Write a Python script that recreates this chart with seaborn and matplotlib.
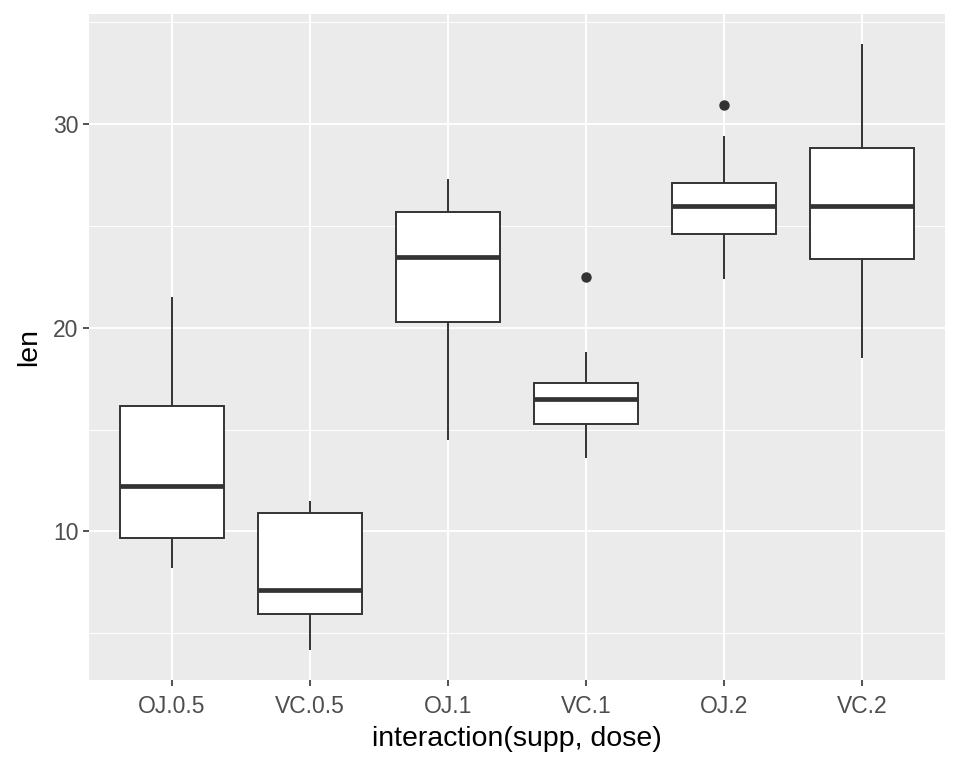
import matplotlib
matplotlib.use("Agg")
import matplotlib.pyplot as plt
import seaborn as sns
import pandas as pd
import numpy as np

# ToothGrowth data (len values per supp/dose group)
groups = ["OJ.0.5", "VC.0.5", "OJ.1", "VC.1", "OJ.2", "VC.2"]
oj_05 = [15.2, 21.5, 17.6, 9.7, 14.5, 10.0, 8.2, 9.4, 16.5, 9.7]
vc_05 = [4.2, 11.5, 7.3, 5.8, 6.4, 10.0, 11.2, 11.2, 5.2, 7.0]
oj_1 = [19.7, 23.3, 23.6, 26.4, 20.0, 25.2, 25.8, 21.2, 14.5, 27.3]
vc_1 = [16.5, 16.5, 15.2, 17.3, 22.5, 17.3, 13.6, 14.5, 18.8, 15.5]
oj_2 = [25.5, 26.4, 22.4, 24.5, 24.8, 30.9, 26.4, 27.3, 29.4, 23.0]
vc_2 = [23.6, 18.5, 33.9, 25.5, 26.4, 32.5, 26.7, 21.5, 23.3, 29.5]

values = [oj_05, vc_05, oj_1, vc_1, oj_2, vc_2]
df = pd.DataFrame({
    "group": np.repeat(groups, [len(v) for v in values]),
    "len": np.concatenate(values),
})

plt.rcParams["font.family"] = ["Liberation Sans", "DejaVu Sans"]

fig = plt.figure(figsize=(9.6, 7.68), dpi=100)
ax = fig.add_axes([89/960, 1-680/768, (945-89)/960, (680-14)/768])
ax.set_facecolor("#EBEBEB")

dark = "#333333"
sns.boxplot(data=df, x="group", y="len", order=groups, width=0.75, ax=ax,
            color="white", linecolor=dark, linewidth=1.4, whis=1.5,
            boxprops=dict(facecolor="white", edgecolor=dark, linewidth=1.4),
            medianprops=dict(color=dark, linewidth=3.4),
            whiskerprops=dict(color=dark, linewidth=1.4),
            capprops=dict(linewidth=0),
            flierprops=dict(marker="o", markerfacecolor=dark, markeredgecolor=dark,
                            markersize=6.5),
            zorder=3)

lo, hi = df["len"].min(), df["len"].max()
rng = hi - lo
ax.set_ylim(lo - 0.05 * rng, hi + 0.05 * rng)
ax.set_xlim(-0.6, len(groups) - 0.4)

ax.set_yticks([10, 20, 30])
ax.set_yticks([5, 15, 25, 35], minor=True)
ax.grid(which="major", color="white", linewidth=1.4, zorder=0)
ax.grid(which="minor", axis="y", color="white", linewidth=0.7, zorder=0)
ax.set_axisbelow(True)
for s in ax.spines.values():
    s.set_visible(False)

ax.tick_params(axis="both", which="major", length=4.5, width=1.2, color=dark,
               labelsize=16.5, labelcolor="#4D4D4D", pad=3)
ax.tick_params(axis="x", which="major", pad=6)
ax.tick_params(axis="y", which="minor", length=0)
ax.set_xlabel("interaction(supp, dose)", fontsize=20.5, color="black", labelpad=6)
ax.set_ylabel("len", fontsize=20.5, color="black", labelpad=8)

fig.savefig("out.png", dpi=100, facecolor="white")
